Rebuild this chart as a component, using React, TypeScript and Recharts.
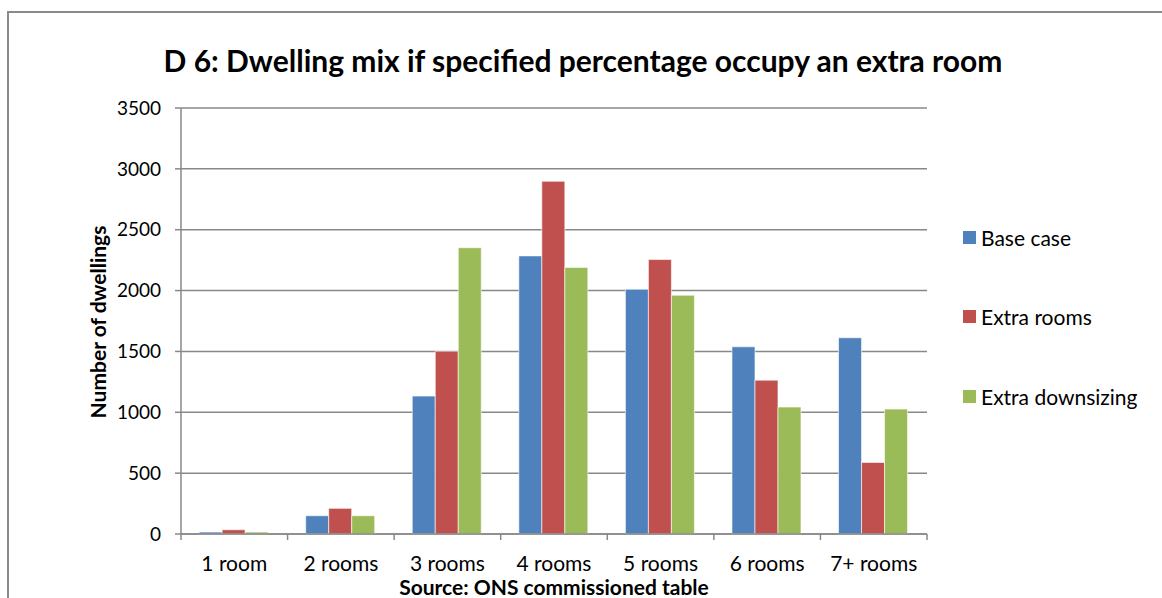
import React from "react";
import { Bar, BarChart, CartesianGrid, XAxis, YAxis } from "recharts";

const categories = ["1 room", "2 rooms", "3 rooms", "4 rooms", "5 rooms", "6 rooms", "7+ rooms"];
const baseCase = [16, 150, 1133, 2285, 2011, 1538, 1612];
const extraRooms = [35, 211, 1502, 2898, 2255, 1264, 588];
const extraDownsizing = [16, 150, 2352, 2190, 1962, 1043, 1026];
const yTicks = [0, 500, 1000, 1500, 2000, 2500, 3000, 3500];

const seriesInfo = [
  { key: "base", name: "Base case", color: "#4F81BD" },
  { key: "rooms", name: "Extra rooms", color: "#C0504D" },
  { key: "down", name: "Extra downsizing", color: "#9BBB59" },
];

const data = categories.map((label, i) => ({
  label,
  base: baseCase[i],
  rooms: extraRooms[i],
  down: extraDownsizing[i],
}));

const FONT = "Lato, 'Open Sans', sans-serif";
const GRID = "#888888";

const CHART_W = 1162;
const CHART_H = 598;
const MARGIN = { top: 108, right: 235, left: 101, bottom: 34 };
const Y_W = 80;
const PLOT_W = CHART_W - MARGIN.left - MARGIN.right - Y_W;
const BAND = PLOT_W / categories.length;

function XTick(props: any) {
  const { x, y, payload, index } = props;
  const half = BAND / 2;
  return (
    <g>
      <line x1={x - half} x2={x - half} y1={y - 8} y2={y - 2} stroke={GRID} strokeWidth={1.5} />
      {index === categories.length - 1 ? (
        <line x1={x + half} x2={x + half} y1={y - 8} y2={y - 2} stroke={GRID} strokeWidth={1.5} />
      ) : null}
      <text x={x} y={y + 29} textAnchor="middle" fontSize={21} fill="#000" fontFamily={FONT}>
        {payload.value}
      </text>
    </g>
  );
}

function LegendBox() {
  return (
    <div style={{ position: "absolute", left: 963, top: 224, fontFamily: FONT, fontSize: 21, color: "#000" }}>
      {seriesInfo.map((s, i) => (
        <div key={s.key} style={{ display: "flex", alignItems: "center", height: 26, marginBottom: i < 2 ? 53.5 : 0 }}>
          <span style={{ width: 13, height: 13, background: s.color, display: "inline-block", marginRight: 5 }} />
          <span>{s.name}</span>
        </div>
      ))}
    </div>
  );
}

export default function App() {
  return (
    <div style={{ position: "absolute", left: 0, top: 0, width: CHART_W, height: CHART_H, overflow: "hidden", background: "#fff" }}>
      <div style={{ position: "absolute", left: 7, top: 11, width: 1300, height: 800, border: "2px solid #8a8a8a" }} />
      <div
        style={{
          position: "absolute",
          left: 583,
          top: 60,
          transform: "translate(-50%, -50%)",
          whiteSpace: "nowrap",
          fontFamily: FONT,
          fontWeight: 700,
          fontSize: 30,
          color: "#000",
        }}
      >
        D 6: Dwelling mix if specified percentage occupy an extra room
      </div>
      <div
        style={{
          position: "absolute",
          left: 97,
          top: 322,
          transform: "translate(-50%, -50%) rotate(-90deg)",
          whiteSpace: "nowrap",
          fontFamily: FONT,
          fontWeight: 700,
          fontSize: 21,
        }}
      >
        Number of dwellings
      </div>
      <div
        style={{
          position: "absolute",
          left: 554,
          top: 587,
          transform: "translate(-50%, -50%)",
          whiteSpace: "nowrap",
          fontFamily: FONT,
          fontWeight: 700,
          fontSize: 21,
          lineHeight: "22px",
        }}
      >
        Source: ONS commissioned table
      </div>
      <LegendBox />
      <BarChart
        width={CHART_W}
        height={CHART_H}
        data={data}
        margin={MARGIN}
        barGap={0}
        barCategoryGap="17%"
        style={{ position: "absolute", left: 0, top: 0 }}
      >
        <CartesianGrid vertical={false} stroke={GRID} strokeWidth={1.5} />
        <XAxis
          dataKey="label"
          height={30}
          axisLine={{ stroke: GRID, strokeWidth: 1.5 }}
          tickLine={false}
          tick={<XTick />}
          interval={0}
        />
        <YAxis
          width={Y_W}
          domain={[0, 3500]}
          ticks={yTicks}
          interval={0}
          axisLine={{ stroke: GRID, strokeWidth: 1.5 }}
          tickLine={{ stroke: GRID, strokeWidth: 1.5 }}
          tickSize={6}
          tickMargin={14}
          tick={{ fontSize: 19, fill: "#000", fontFamily: FONT }}
        />
        {seriesInfo.map((s) => (
          <Bar key={s.key} dataKey={s.key} name={s.name} fill={s.color} stroke="#ffffff" strokeOpacity={0.6} strokeWidth={1} isAnimationActive={false} />
        ))}
      </BarChart>
    </div>
  );
}
